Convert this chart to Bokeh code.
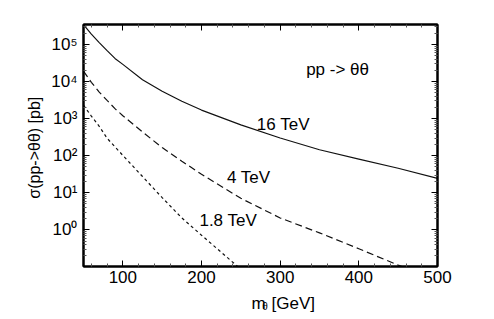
from bokeh.plotting import figure
from bokeh.layouts import column
from bokeh.models import LogAxis, LinearAxis, FixedTicker, Range1d, ColumnDataSource
from bokeh.embed import file_html
from bokeh.resources import INLINE
from bokeh.core.properties import value

# ---- data ----
mass_16 = [50, 60, 70, 80, 90, 100, 125, 150, 175, 200, 250, 300, 350, 400, 450, 500]
sigma_16 = [3.4e5, 1.9e5, 1.12e5, 6.8e4, 4.2e4, 2.9e4, 1.12e4, 5.5e3, 2.95e3, 1.7e3,
            680, 300, 145, 81, 46, 24.5]

mass_4 = [50, 60, 70, 80, 90, 100, 125, 150, 175, 200, 250, 300, 350, 400, 450, 460]
sigma_4 = [1.9e4, 9.5e3, 5.2e3, 3.1e3, 1.86e3, 1.2e3, 437, 166, 71, 31.6,
           7.1, 2.1, 0.83, 0.31, 0.112, 0.093]

mass_18 = [50, 60, 70, 80, 90, 100, 125, 150, 175, 200, 225, 250]
sigma_18 = [2.3e3, 1.17e3, 620, 295, 174, 102, 27.5, 7.4, 2.1, 0.72, 0.25, 0.087]

label_x = [304, 260, 234, 373]
label_y = [10 ** 2.84, 10 ** 1.40, 10 ** 0.24, 10 ** 4.33]
label_text = ["16 TeV", "4 TeV", "1.8 TeV", "pp -> \u03b8\u03b8"]

x_major = [100, 200, 300, 400, 500]
x_minor = [60, 80, 120, 140, 160, 180, 220, 240, 260, 280, 320, 340, 360, 380,
           420, 440, 460, 480]
y_major = [1, 10, 100, 1000, 10000, 100000]
y_major_labels = ["10\u2070", "10\u00b9", "10\u00b2", "10\u00b3", "10\u2074", "10\u2075"]
y_minor = [m * 10.0 ** k for k in range(-1, 6) for m in range(2, 10)]

x_title_parts = ["m", "\u03b8", "[GeV]"]

FONT = "Liberation Sans"
W = 478

p = figure(width=W, height=292,
           x_range=Range1d(50, 500), y_range=Range1d(0.103, 3.45e5),
           y_axis_type="log", output_backend="svg", toolbar_location=None,
           min_border_left=83, min_border_top=24, min_border_right=41,
           min_border_bottom=26)
p.grid.visible = False
p.outline_line_color = "black"
p.outline_line_width = 2
p.background_fill_color = "white"
p.border_fill_color = "white"

p.line(mass_16, sigma_16, line_color="#111111", line_width=1.2)
p.line(mass_4, sigma_4, line_color="#111111", line_width=1.2, line_dash="7 4")
p.line(mass_18, sigma_18, line_color="#111111", line_width=1.2, line_dash="3 3")

src = ColumnDataSource(dict(x=label_x, y=label_y, t=label_text))
p.text(x="x", y="y", text="t", source=src, text_font=value(FONT),
       text_font_size="17px", text_align="center", text_baseline="middle",
       text_color="black")

xt = FixedTicker(ticks=x_major, minor_ticks=x_minor)
yt = FixedTicker(ticks=y_major, minor_ticks=y_minor)

def style(ax, labels=True):
    ax.axis_line_width = 2
    ax.axis_line_color = "black"
    ax.major_tick_in = 6
    ax.major_tick_out = 0
    ax.minor_tick_in = 3
    ax.minor_tick_out = 0
    ax.major_tick_line_color = "black"
    ax.minor_tick_line_color = "#555555"
    ax.major_label_text_font = FONT
    if labels:
        ax.major_label_text_font_size = "17px"
        ax.major_label_text_color = "black"
    else:
        ax.major_label_text_font_size = "1px"
        ax.major_label_text_color = None
        ax.major_label_standoff = 0

xa = p.xaxis[0]
xa.ticker = xt
style(xa)
xa.major_label_standoff = 4

ya = p.yaxis[0]
ya.ticker = yt
style(ya)
ya.major_label_overrides = {v: s for v, s in zip(y_major, y_major_labels)}
ya.major_label_standoff = 6
ya.axis_label = "\u03c3(pp->\u03b8\u03b8)  [pb]"
ya.axis_label_text_font = FONT
ya.axis_label_text_font_size = "16px"
ya.axis_label_text_font_style = "normal"
ya.axis_label_text_color = "black"
ya.axis_label_standoff = 5

ra = LogAxis(ticker=yt)
style(ra, labels=False)
p.add_layout(ra, "right")

ta = LinearAxis(ticker=xt)
style(ta, labels=False)
p.add_layout(ta, "above")

# ---- x axis title strip (m with subscript theta, then [GeV]) ----
t = figure(width=W, height=20, x_range=Range1d(0, W), y_range=Range1d(0, 20),
           output_backend="svg", toolbar_location=None,
           x_axis_location=None, y_axis_location=None,
           min_border_left=0, min_border_right=0, min_border_top=0, min_border_bottom=0)
t.grid.visible = False
t.outline_line_color = None
t.background_fill_color = "white"
t.border_fill_color = "white"
t.text(x=[227], y=[9], text=[x_title_parts[0]], text_font=value(FONT),
       text_font_size="17px", text_baseline="alphabetic", text_align="left",
       text_color="black")
t.text(x=[241.5], y=[6.5], text=[x_title_parts[1]], text_font=value(FONT),
       text_font_size="10px", text_baseline="alphabetic", text_align="left",
       text_color="black")
t.text(x=[254], y=[9], text=[x_title_parts[2]], text_font=value(FONT),
       text_font_size="17px", text_baseline="alphabetic", text_align="left",
       text_color="black")

layout = column(p, t, spacing=0)
open("out.html", "w").write(file_html(layout, INLINE))
